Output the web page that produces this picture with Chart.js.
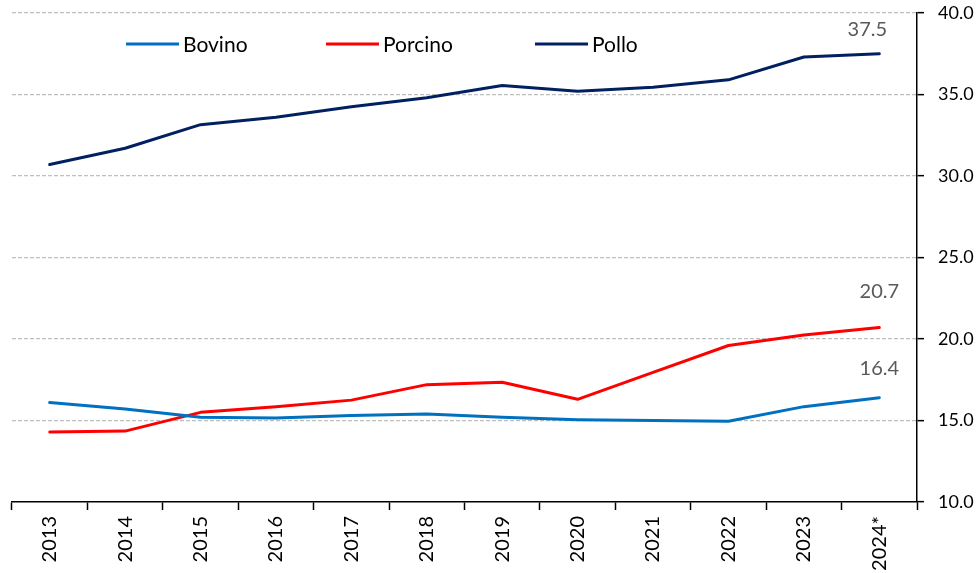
<!DOCTYPE html>
<html>
<head>
<meta charset="utf-8">
<script src="https://cdn.jsdelivr.net/npm/chart.js@4.4.1/dist/chart.umd.min.js"></script>
<style>
    body { margin: 0; background: #fff; }
    #caja { width: 979px; height: 573px; }
</style>
</head>
<body>
<div id="caja"><canvas id="carne"></canvas></div>
<script>
const anios = ['2013', '2014', '2015', '2016', '2017', '2018', '2019', '2020', '2021', '2022', '2023', '2024*'];
const bovino = [16.1, 15.7, 15.2, 15.15, 15.3, 15.4, 15.2, 15.05, 15.0, 14.95, 15.85, 16.4];
const porcino = [14.3, 14.35, 15.5, 15.85, 16.25, 17.2, 17.35, 16.3, 17.95, 19.6, 20.25, 20.7];
const pollo = [30.7, 31.7, 33.15, 33.6, 34.25, 34.8, 35.55, 35.2, 35.45, 35.9, 37.3, 37.5];
const ticksY = [10, 15, 20, 25, 30, 35, 40];

const fuente = 'Lato, "Open Sans", sans-serif';

// leyenda dentro del area del grafico, como en el original
const leyenda = {
    id: 'leyenda',
    afterDraw(chart) {
        const c = chart.ctx;
        const area = chart.chartArea;
        const xs = [114, 314, 523];
        c.save();
        c.font = '21px ' + fuente;
        c.textBaseline = 'middle';
        chart.data.datasets.forEach((ds, i) => {
            const x = area.left + xs[i];
            const y = area.top + 31;
            c.strokeStyle = ds.borderColor;
            c.lineWidth = 3;
            c.beginPath();
            c.moveTo(x, y);
            c.lineTo(x + 53, y);
            c.stroke();
            c.fillStyle = '#000';
            c.fillText(ds.label, x + 57, y + 1);
        });
        c.restore();
    }
};

// etiqueta del ultimo valor de cada serie
const etiquetas = {
    id: 'etiquetas',
    afterDatasetsDraw(chart) {
        const c = chart.ctx;
        const subir = [29, 36, 24];
        const mover = [0, 0, -12];
        c.save();
        c.font = '20px ' + fuente;
        c.fillStyle = '#595959';
        c.textAlign = 'center';
        c.textBaseline = 'middle';
        chart.data.datasets.forEach((ds, i) => {
            const meta = chart.getDatasetMeta(i);
            const n = ds.data.length - 1;
            const p = meta.data[n];
            c.fillText(ds.data[n].toFixed(1), p.x + mover[i], p.y - subir[i]);
        });
        c.restore();
    }
};

new Chart(document.getElementById('carne'), {
    type: 'line',
    data: {
        labels: anios,
        datasets: [
            { label: 'Bovino', data: bovino, borderColor: '#0070C0' },
            { label: 'Porcino', data: porcino, borderColor: '#FF0000' },
            { label: 'Pollo', data: pollo, borderColor: '#002060' }
        ]
    },
    options: {
        responsive: true,
        maintainAspectRatio: false,
        animation: false,
        layout: {
            padding: { left: 12, top: 13, right: 0, bottom: 0 }
        },
        elements: {
            line: { borderWidth: 3, tension: 0, borderJoinStyle: 'round', borderCapStyle: 'round' },
            point: { radius: 0 }
        },
        plugins: {
            legend: { display: false },
            tooltip: { enabled: false }
        },
        scales: {
            x: {
                offset: true,
                afterFit: (eje) => {
                    eje.height = 71;
                    eje.paddingLeft = 0;
                    eje.paddingRight = 0;
                },
                grid: {
                    offset: true,
                    drawOnChartArea: false,
                    drawTicks: true,
                    tickLength: 8,
                    tickColor: '#000',
                    tickWidth: 1.5
                },
                border: { color: '#000', width: 1.5 },
                ticks: {
                    minRotation: 90,
                    maxRotation: 90,
                    autoSkip: false,
                    padding: 6,
                    color: '#000',
                    font: { family: fuente, size: 20 }
                }
            },
            y: {
                position: 'right',
                min: 10,
                max: 40,
                afterBuildTicks: (eje) => {
                    eje.ticks = ticksY.map(v => ({ value: v }));
                },
                afterFit: (eje) => {
                    eje.width = 62;
                    eje.paddingTop = 0;
                    eje.paddingBottom = 0;
                },
                grid: {
                    color: (c) => c.tick && c.tick.value === 10 ? 'rgba(0,0,0,0)' : '#BFBFBF',
                    lineWidth: 1.3,
                    tickLength: 7,
                    tickColor: '#000',
                    tickWidth: 1.5,
                    tickBorderDash: []
                },
                border: { color: '#000', width: 1.5, dash: [4, 2] },
                ticks: {
                    padding: 14,
                    color: '#000',
                    font: { family: fuente, size: 18 },
                    callback: (v) => Number(v).toFixed(1)
                }
            }
        }
    },
    plugins: [leyenda, etiquetas]
});
</script>
</body>
</html>
